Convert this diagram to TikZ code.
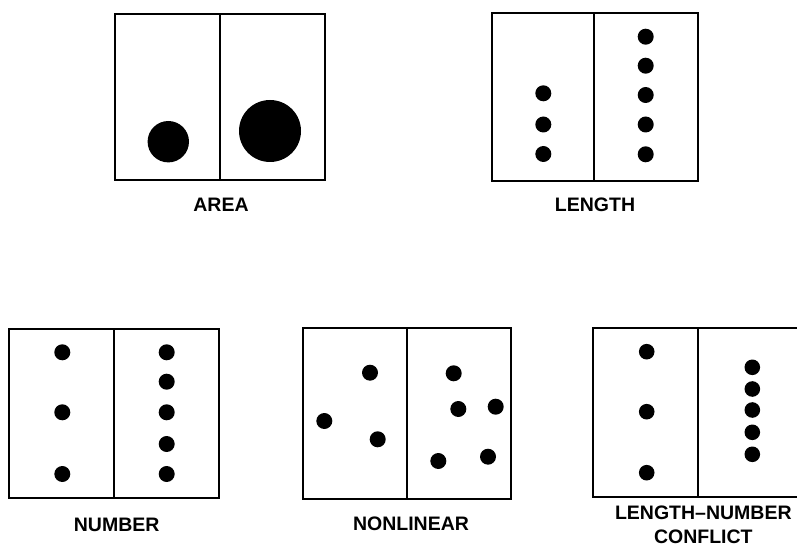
\documentclass[tikz,border=0pt]{standalone}
\usepackage{fontspec}
\setmainfont{Liberation Sans}
\begin{document}
\begin{tikzpicture}[x=1pt,y=-1pt,
  panel/.style={draw=black,line width=1.8pt,fill=white},
  divider/.style={draw=black,line width=1.8pt},
  dot/.style={fill=black},
  lab/.style={font=\bfseries\fontsize{19.5}{24}\selectfont,inner sep=0pt,align=center}]
\useasboundingbox (0,0) rectangle (797,553);
\clip (0,0) rectangle (797,553);
% AREA
\draw[panel] (115,14) rectangle (325,180);
\draw[divider] (220,14) -- (220,180);
\fill[dot] (168.3,141.7) circle (20.7);
\fill[dot] (270,131) circle (31);
\node[lab] (area) at (221,205) {AREA};
% LENGTH
\draw[panel] (491.7,13.3) rectangle (698.3,181);
\draw[divider] (594.3,13.3) -- (594.3,181);
\foreach \y in {93.3,124.5,154} \fill[dot] (543.3,\y) circle (8);
\foreach \y in {36.7,65.7,95,124.5,154.3} \fill[dot] (645.7,\y) circle (8);
\node[lab] (length) at (595,205) {LENGTH};
% NUMBER
\draw[panel] (9.3,329) rectangle (219.3,498.3);
\draw[divider] (114.3,329) -- (114.3,498.3);
\foreach \y in {352.3,412.3,474} \fill[dot] (62.3,\y) circle (8);
\foreach \y in {352.3,381.7,412.3,444,474} \fill[dot] (166.7,\y) circle (8);
\node[lab] (number) at (116.7,525) {NUMBER};
% NONLINEAR
\draw[panel] (302.7,328.3) rectangle (511,499);
\draw[divider] (406.7,328.3) -- (406.7,499);
\foreach \p in {(370,372.7),(324.3,421),(377.7,439.3),(453.7,373.3),(458.3,409),(495.7,406.7),(438.3,461),(488,456.7)}
  \fill[dot] \p circle (8);
\node[lab] (nonlinear) at (411,523.3) {NONLINEAR};
% LENGTH-NUMBER CONFLICT
\draw[panel] (593.3,328.3) rectangle (803,497.3);
\draw[divider] (698.3,328.3) -- (698.3,497.3);
\foreach \y in {351.7,411.7,472.7} \fill[dot] (646.7,\y) circle (7.8);
\foreach \y in {367.3,389,410,432.3,454.3} \fill[dot] (752.3,\y) circle (7.8);
\node[lab] (conflict) at (703.3,525) {LENGTH–NUMBER\\CONFLICT};
\end{tikzpicture}
\end{document}
